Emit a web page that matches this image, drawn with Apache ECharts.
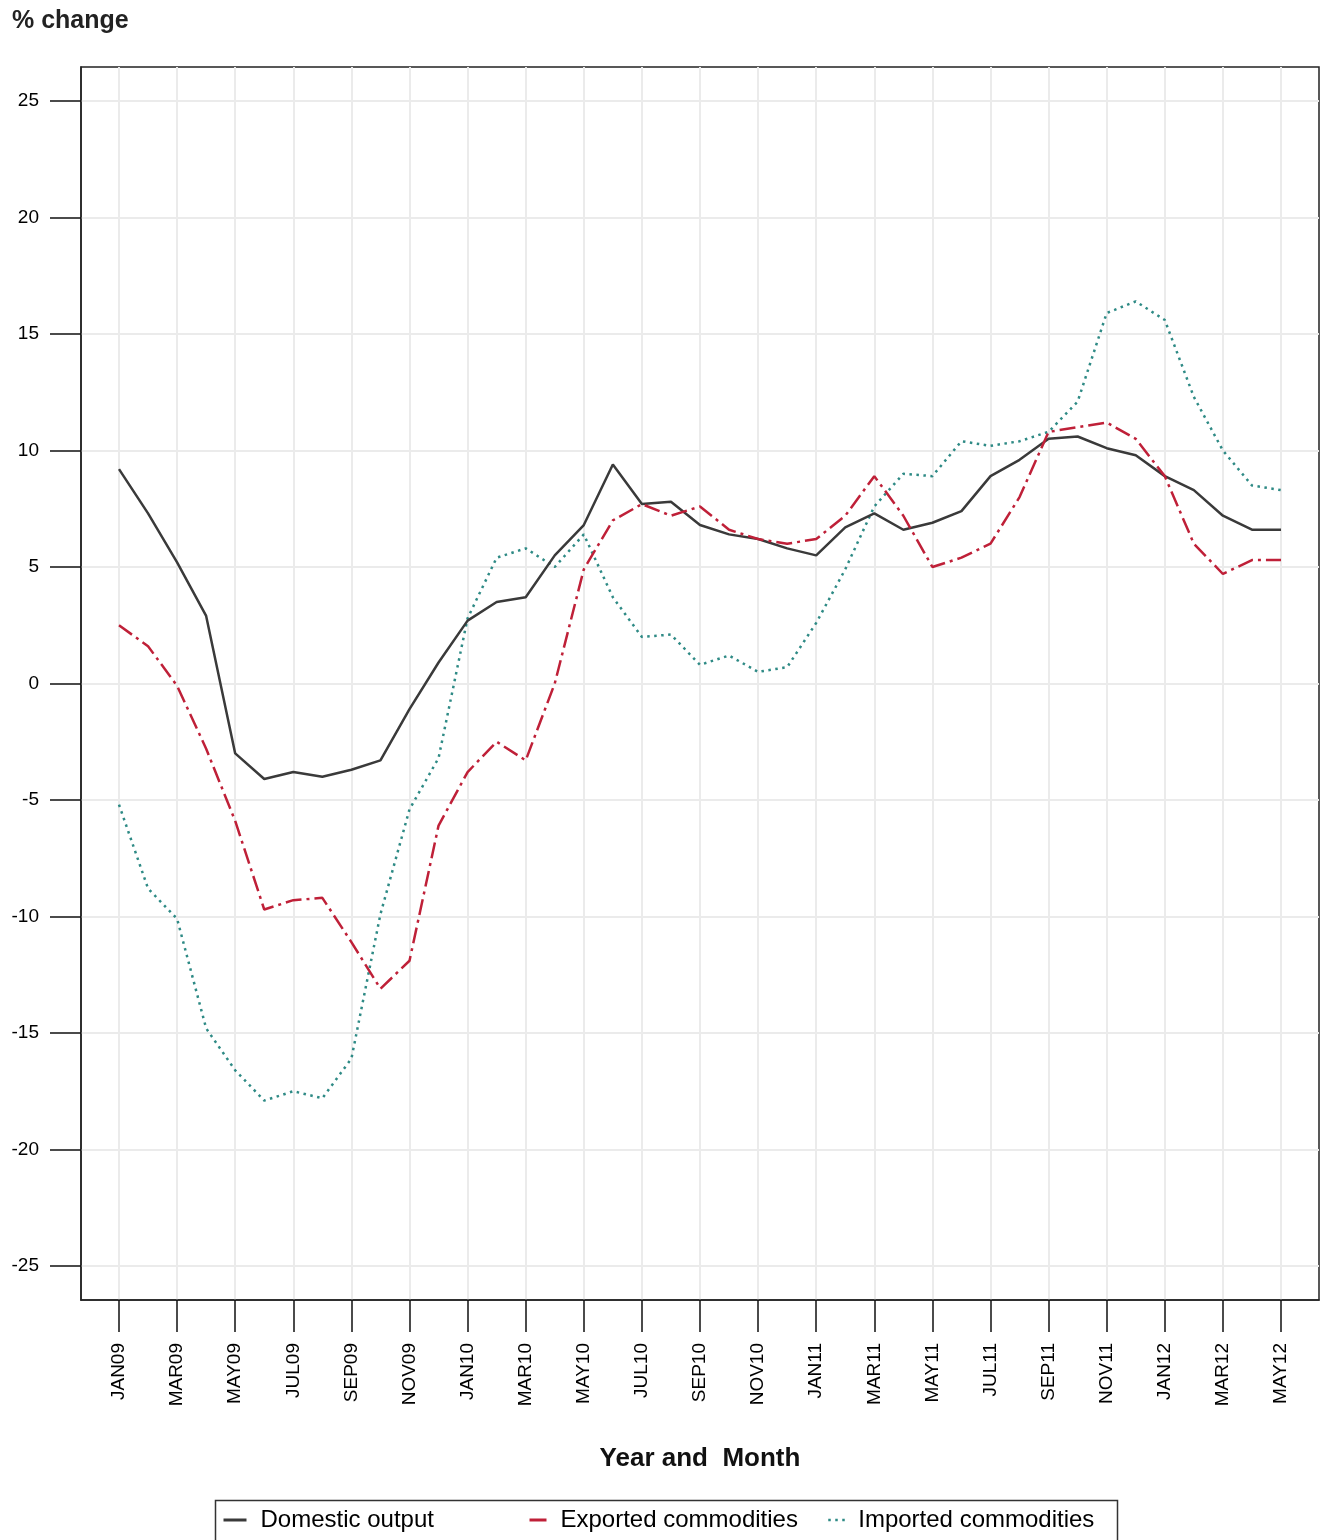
<!DOCTYPE html>
<html>
<head>
<meta charset="utf-8">
<script src="https://cdn.jsdelivr.net/npm/echarts@6/dist/echarts.min.js"></script>
<style>
html,body{margin:0;padding:0;background:#fff;}
#chart{width:1323px;height:1540px;}
</style>
</head>
<body>
<div id="chart"></div>
<script>
// Months JAN09 .. MAY12 (index 0..40)
var tickLabels = ['JAN09','MAR09','MAY09','JUL09','SEP09','NOV09','JAN10','MAR10','MAY10','JUL10','SEP10','NOV10','JAN11','MAR11','MAY11','JUL11','SEP11','NOV11','JAN12','MAR12','MAY12'];
var yTicks = [-25,-20,-15,-10,-5,0,5,10,15,20,25];

var domestic = [9.2, 7.3, 5.2, 2.9, -3.0, -4.1, -3.8, -4.0, -3.7, -3.3, -1.1, 0.9,
                2.7, 3.5, 3.7, 5.5, 6.8, 9.4, 7.7, 7.8, 6.8, 6.4, 6.2, 5.8,
                5.5, 6.7, 7.3, 6.6, 6.9, 7.4, 8.9, 9.6, 10.5, 10.6, 10.1, 9.8,
                8.9, 8.3, 7.2, 6.6, 6.6];
var exported = [2.5, 1.6, -0.1, -2.8, -5.9, -9.7, -9.3, -9.2, -11.1, -13.1, -11.9, -6.1,
                -3.8, -2.5, -3.3, 0.0, 4.9, 7.0, 7.7, 7.2, 7.6, 6.6, 6.2, 6.0,
                6.2, 7.2, 8.9, 7.2, 5.0, 5.4, 6.0, 8.0, 10.8, 11.0, 11.2, 10.5,
                8.9, 6.0, 4.7, 5.3, 5.3];
var imported = [-5.2, -8.8, -10.1, -14.8, -16.6, -17.9, -17.5, -17.8, -16.1, -9.9, -5.4, -3.2,
                2.8, 5.4, 5.8, 5.0, 6.4, 3.7, 2.0, 2.1, 0.8, 1.2, 0.5, 0.7,
                2.6, 4.9, 7.6, 9.0, 8.9, 10.4, 10.2, 10.4, 10.8, 12.1, 15.9, 16.4,
                15.6, 12.3, 10.0, 8.5, 8.3];

function pairs(arr){ return arr.map(function(v,i){ return [i, v]; }); }
var xTickValues = tickLabels.map(function(_, i){ return i * 2; });

var FONT = '"Liberation Sans", Arial, sans-serif';
var chart = echarts.init(document.getElementById('chart'), null, {renderer:'canvas'});

var legendBase = {
  orient: 'horizontal', top: 1508, padding: 0, itemHeight: 14,
  selectedMode: false,
  itemStyle: {opacity: 0, borderWidth: 0}
};

chart.setOption({
  animation: false,
  backgroundColor: '#fff',
  title: {
    text: '% change', left: 12, top: 9, padding: 0,
    textStyle: {fontFamily: FONT, fontSize: 25, fontWeight: 'bold', color: '#222'}
  },
  grid: {
    left: 81, right: 4, top: 67, bottom: 240,
    show: true, borderColor: '#222', borderWidth: 1.5, backgroundColor: '#fff'
  },
  xAxis: {
    type: 'value', min: -1.308, max: 41.308,
    name: 'Year and  Month', nameLocation: 'middle', nameGap: 146,
    nameTextStyle: {fontFamily: FONT, fontSize: 26, fontWeight: 'bold', color: '#111'},
    axisLine: {show: true, onZero: false, lineStyle: {color: '#222', width: 1.5}},
    axisTick: {show: true, customValues: xTickValues, length: 32, lineStyle: {color: '#111', width: 1.5}},
    axisLabel: {
      customValues: xTickValues, rotate: 90, margin: 43,
      fontFamily: FONT, fontSize: 19, color: '#000',
      formatter: function(v){ return tickLabels[Math.round(v/2)] || ''; }
    },
    splitLine: {show: true, lineStyle: {color: '#ebebeb', width: 2}}
  },
  yAxis: {
    type: 'value', min: -26.46, max: 26.46,
    axisLine: {show: true, onZero: false, lineStyle: {color: '#222', width: 1.5}},
    axisTick: {show: true, customValues: yTicks, length: 31, lineStyle: {color: '#111', width: 1.5}},
    axisLabel: {customValues: yTicks, margin: 42, fontFamily: FONT, fontSize: 19, color: '#000'},
    splitLine: {show: true, lineStyle: {color: '#ebebeb', width: 2}}
  },
  legend: [
    Object.assign({}, legendBase, {
      data: ['Domestic output'], left: 222, itemWidth: 23,
      lineStyle: {width: 3},
      textStyle: {fontFamily: FONT, fontSize: 24, color: '#000', padding: [0,0,0,9]}
    }),
    Object.assign({}, legendBase, {
      data: ['Exported commodities'], left: 528, itemWidth: 17,
      lineStyle: {width: 3, type: 'solid'},
      textStyle: {fontFamily: FONT, fontSize: 24, color: '#000', padding: [0,0,0,9]}
    }),
    Object.assign({}, legendBase, {
      data: ['Imported commodities'], left: 827, itemWidth: 18,
      lineStyle: {width: 2.5, type: [2.5, 4.5]},
      textStyle: {fontFamily: FONT, fontSize: 24, color: '#000', padding: [0,0,0,7]}
    })
  ],
  graphic: [{
    type: 'rect', left: 213, top: 1498, silent: true,
    shape: {width: 902, height: 41},
    style: {fill: 'none', stroke: '#333', lineWidth: 1.5}
  }],
  series: [
    {
      name: 'Domestic output', type: 'line', data: pairs(domestic),
      symbol: 'none', showSymbol: false,
      lineStyle: {color: '#3a3a3a', width: 2.5, type: 'solid'},
      itemStyle: {color: '#3a3a3a'}, z: 3
    },
    {
      name: 'Exported commodities', type: 'line', data: pairs(exported),
      symbol: 'none', showSymbol: false,
      lineStyle: {color: '#bf2038', width: 2.5, type: [16, 5, 3, 5]},
      itemStyle: {color: '#bf2038'}, z: 4
    },
    {
      name: 'Imported commodities', type: 'line', data: pairs(imported),
      symbol: 'none', showSymbol: false,
      lineStyle: {color: '#2e8a85', width: 2.5, type: [2.5, 4.5]},
      itemStyle: {color: '#2e8a85'}, z: 2
    }
  ]
});
</script>
</body>
</html>
